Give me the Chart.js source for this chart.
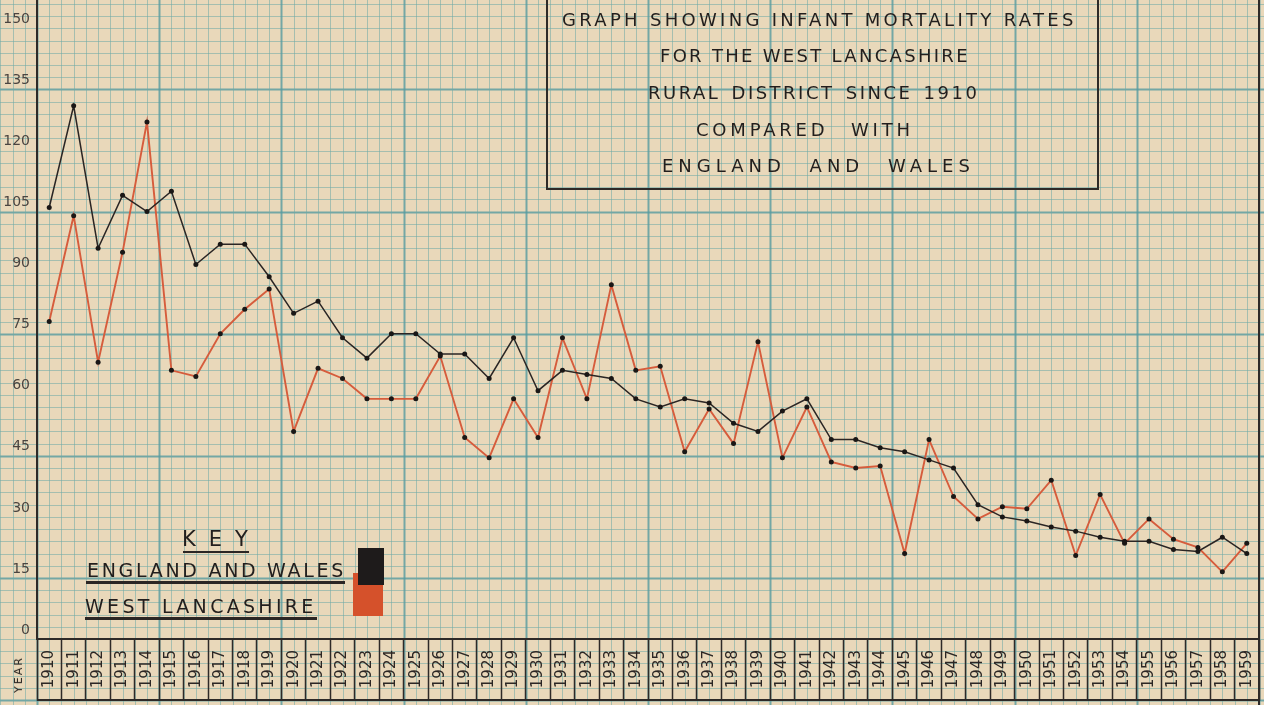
<!DOCTYPE html>
<html>
<head>
<meta charset="utf-8">
<title>Infant mortality rates - West Lancashire R.D.</title>
<script src="https://cdn.jsdelivr.net/npm/chart.js@4.4.1/dist/chart.umd.min.js"></script>
<style>
  html, body { margin: 0; padding: 0; background: #e8d6b7; }
  #wrap { position: relative; width: 1264px; height: 705px; overflow: hidden; }
  #wrap canvas { position: absolute; left: 0; top: 0; }
  .txt { position: absolute; font-family: "DejaVu Sans", sans-serif; color: #221e1d; white-space: nowrap; }
  .rule { position: absolute; background: #2b2624; }
  #titlebox { position: absolute; left: 546px; top: -4px; width: 549px; height: 192px;
              border: 2px solid #2e2a28; border-top: none; }
  .tline { font-size: 18px; line-height: 22px; }
  .key { font-size: 19px; line-height: 22px; }
</style>
</head>
<body>
<div id="wrap">
  <canvas id="chart" width="1264" height="705"></canvas>

  <div id="titlebox"></div>
  <div class="txt tline" style="left:562px; top:9px; letter-spacing:3.3px">GRAPH SHOWING INFANT MORTALITY RATES</div>
  <div class="txt tline" style="left:660px; top:45px; letter-spacing:2.3px">FOR THE WEST LANCASHIRE</div>
  <div class="txt tline" style="left:648px; top:82px; letter-spacing:2.5px; word-spacing:3px">RURAL DISTRICT SINCE 1910</div>
  <div class="txt tline" style="left:696px; top:119px; letter-spacing:3.8px; word-spacing:13px">COMPARED WITH</div>
  <div class="txt tline" style="left:662px; top:155px; letter-spacing:5px; word-spacing:13px">ENGLAND AND WALES</div>

  <div class="txt" style="left:182px; top:527px; font-size:21px; letter-spacing:13px; line-height:24px">KEY</div>
  <div class="rule" style="left:183px; top:551px; width:66px; height:2px"></div>
  <div class="txt key" style="left:87px; top:559px; letter-spacing:2.7px">ENGLAND AND WALES</div>
  <div class="rule" style="left:86px; top:581px; width:259px; height:3px"></div>
  <div class="txt key" style="left:85px; top:595px; letter-spacing:3.3px">WEST LANCASHIRE</div>
  <div class="rule" style="left:85px; top:617px; width:232px; height:3px"></div>
  <div style="position:absolute; left:353px; top:573px; width:30px; height:43px; background:#d5512b"></div>
  <div style="position:absolute; left:358px; top:548px; width:26px; height:37px; background:#1e1b1b"></div>

  <div class="txt" style="left:0px; top:668px; font-size:11px; letter-spacing:2px; transform:rotate(-90deg)">YEAR</div>
</div>

<script>
// years on the bottom row of boxes
const years = [];
for (let yr = 1910; yr <= 1959; yr++) years.push(String(yr));

// infant deaths per 1000 live births
const englandWales = [106, 131, 96, 109, 105, 110, 92, 97, 97, 89,
                      80, 83, 74, 69, 75, 75, 70, 70, 64, 74,
                      61, 66, 65, 64, 59, 57, 59, 58, 53, 51,
                      56, 59, 49, 49, 47, 46, 44, 42, 33, 30,
                      29, 27.5, 26.5, 25, 24, 24, 22, 21.5, 25, 21];

const westLancs = [78, 104, 68, 95, 127, 66, 64.5, 75, 81, 86,
                   51, 66.5, 64, 59, 59, 59, 69.5, 49.5, 44.5, 59,
                   49.5, 74, 59, 87, 66, 67, 46, 56.5, 48, 73,
                   44.5, 57, 43.5, 42, 42.5, 21, 49, 35, 29.5, 32.5,
                   32, 39, 20.5, 35.5, 23.5, 29.5, 24.5, 22.5, 16.5, 23.5];

const yTicks = [0, 15, 30, 45, 60, 75, 90, 105, 120, 135, 150];

const INK = "#2e2a28";

// graph paper drawn behind everything, spaced from the scales
const paper = {
  id: "paper",
  beforeDraw(chart) {
    const { ctx, width, height, scales: { x, y } } = chart;
    ctx.save();
    ctx.fillStyle = "#e9d8ba";
    ctx.fillRect(0, 0, width, height);
    for (let v = -24; v <= 165; v += 3) {
      const py = Math.round(y.getPixelForValue(v)) + 0.5;
      if (py < -3 || py > height + 3) continue;
      const major = (((v - 15) % 30) + 30) % 30 === 0;
      ctx.strokeStyle = major ? "rgba(85,155,160,0.8)" : "rgba(110,170,165,0.55)";
      ctx.lineWidth = major ? 2 : 1;
      ctx.beginPath(); ctx.moveTo(0, py); ctx.lineTo(width, py); ctx.stroke();
    }
    for (let k = -6; k <= 104; k++) {
      const px = Math.round(x.getPixelForValue(k / 2 - 0.5)) + 0.5;
      if (px < -3 || px > width + 3) continue;
      const major = k % 10 === 0;
      ctx.strokeStyle = major ? "rgba(85,155,160,0.8)" : "rgba(110,170,165,0.55)";
      ctx.lineWidth = major ? 2 : 1;
      ctx.beginPath(); ctx.moveTo(px, 0); ctx.lineTo(px, height); ctx.stroke();
    }
    ctx.restore();
  },
  afterDraw(chart) {
    const { ctx, height, scales: { x } } = chart;
    ctx.save();
    ctx.strokeStyle = INK;
    ctx.lineWidth = 2;
    ctx.beginPath();
    ctx.moveTo(x.left, 700); ctx.lineTo(x.right, 700);
    ctx.moveTo(x.right, 0); ctx.lineTo(x.right, height);
    ctx.moveTo(x.left, 0); ctx.lineTo(x.left, 6);
    ctx.stroke();
    ctx.restore();
  }
};

new Chart(document.getElementById("chart"), {
  type: "line",
  data: {
    labels: years,
    datasets: [
      {
        label: "England and Wales",
        data: englandWales,
        borderColor: "#2a2524",
        borderWidth: 1.5,
        pointRadius: 2.5,
        pointBorderWidth: 0,
        pointBackgroundColor: "#1a1716",
        tension: 0
      },
      {
        label: "West Lancashire",
        data: westLancs,
        borderColor: "#d65c3c",
        borderWidth: 1.9,
        pointRadius: 2.5,
        pointBorderWidth: 0,
        pointBackgroundColor: "#1a1716",
        tension: 0
      }
    ]
  },
  options: {
    responsive: false,
    animation: false,
    devicePixelRatio: 1,
    layout: { padding: { top: 0, right: 5, bottom: 0, left: 0 } },
    plugins: {
      legend: { display: false },
      title: { display: false },
      tooltip: { enabled: false }
    },
    scales: {
      x: {
        type: "category",
        offset: true,
        afterFit(scale) {
          scale.height = 66;
          scale.paddingLeft = 0; scale.paddingRight = 0;
        },
        grid: {
          drawOnChartArea: false,
          drawTicks: true,
          tickLength: 62,
          tickColor: INK,
          tickWidth: 1.5,
          offset: true
        },
        border: { display: true, color: INK, width: 2 },
        ticks: {
          autoSkip: false,
          minRotation: 90,
          maxRotation: 90,
          padding: -51,
          color: "#2b2624",
          font: { family: "DejaVu Sans", size: 15 }
        }
      },
      y: {
        min: 0,
        max: 156,
        afterFit(scale) {
          scale.width = 37;
          scale.paddingTop = 0; scale.paddingBottom = 0;
        },
        afterBuildTicks(scale) { scale.ticks = yTicks.map(v => ({ value: v })); },
        grid: { display: false, drawTicks: false },
        border: { display: true, color: INK, width: 2 },
        ticks: {
          padding: 7,
          labelOffset: -9,
          color: "#4a4440",
          font: { family: "DejaVu Sans", size: 14 }
        }
      }
    }
  },
  plugins: [paper]
});
</script>
</body>
</html>
